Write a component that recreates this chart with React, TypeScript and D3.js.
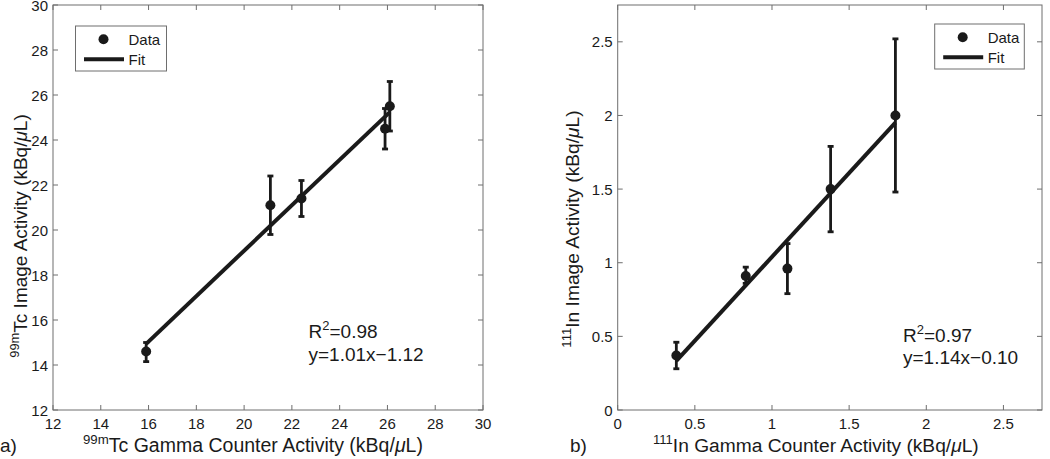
import React from "react";
import * as d3 from "d3";

// ---- Panel a) 99mTc ----
const tcX = [15.9, 21.1, 22.4, 25.9, 26.1];
const tcY = [14.6, 21.1, 21.4, 24.5, 25.5];
const tcLo = [14.15, 19.8, 20.6, 23.6, 24.4];
const tcHi = [15.0, 22.4, 22.2, 25.4, 26.6];
const tcFitX = [15.9, 26.1];
const tcFitY = [14.94, 25.24];
const tcTicks = [12, 14, 16, 18, 20, 22, 24, 26, 28, 30];

// ---- Panel b) 111In ----
const inX = [0.38, 0.83, 1.1, 1.38, 1.8];
const inY = [0.37, 0.91, 0.96, 1.5, 2.0];
const inLo = [0.28, 0.86, 0.79, 1.21, 1.48];
const inHi = [0.46, 0.97, 1.13, 1.79, 2.52];
const inFitX = [0.38, 1.8];
const inFitY = [0.333, 1.952];
const inTicks = [0, 0.5, 1, 1.5, 2, 2.5];
const inTickLabels = ["0", "0.5", "1", "1.5", "2", "2.5"];

const FONT = "'Liberation Sans', Arial, Helvetica, sans-serif";
const INK = "#1a1a1a";
const AXIS = "#6e6e6e";

type PanelProps = {
  x0: number; x1: number; y0: number; y1: number;
  xDomain: [number, number]; yDomain: [number, number];
  ticks: number[]; tickLabels: string[];
  xs: number[]; ys: number[]; lo: number[]; hi: number[];
  fitX: number[]; fitY: number[];
  legend: { x: number; y: number; w: number; h: number };
  annot: { x: number; y: number; r2: string; eq: string };
  iso: string; elem: string;
  xTitle: { x: number; size: number };
  yTitle: { x: number; y: number; size: number };
  panelLabel: { x: number; text: string };
};

function Panel(p: PanelProps) {
  const sx = d3.scaleLinear().domain(p.xDomain).range([p.x0, p.x1]);
  const sy = d3.scaleLinear().domain(p.yDomain).range([p.y1, p.y0]);
  const tl = 5;
  const line = d3.line<number>().x((_, i) => sx(p.fitX[i])).y((d) => sy(d));
  const L = p.legend;
  return (
    <g fontFamily={FONT}>
      {/* box */}
      <rect x={p.x0} y={p.y0} width={p.x1 - p.x0} height={p.y1 - p.y0} fill="white" stroke={AXIS} strokeWidth={1} />
      {p.ticks.map((t, i) => (
        <g key={"t" + i}>
          <line x1={sx(t)} x2={sx(t)} y1={p.y1} y2={p.y1 - tl} stroke={AXIS} />
          <line x1={sx(t)} x2={sx(t)} y1={p.y0} y2={p.y0 + tl} stroke={AXIS} />
          <line x1={p.x0} x2={p.x0 + tl} y1={sy(t)} y2={sy(t)} stroke={AXIS} />
          <line x1={p.x1} x2={p.x1 - tl} y1={sy(t)} y2={sy(t)} stroke={AXIS} />
          <text x={sx(t)} y={p.y1 + 18.5} fontSize={15} textAnchor="middle" fill={INK}>{p.tickLabels[i]}</text>
          <text x={p.x0 - 5} y={sy(t) + 5.5} fontSize={15} textAnchor="end" fill={INK}>{p.tickLabels[i]}</text>
        </g>
      ))}
      {/* error bars */}
      {p.xs.map((x, i) => (
        <g key={"e" + i} stroke={INK} strokeWidth={2.8}>
          <line x1={sx(x)} x2={sx(x)} y1={sy(p.lo[i])} y2={sy(p.hi[i])} />
          <line x1={sx(x) - 3} x2={sx(x) + 3} y1={sy(p.lo[i])} y2={sy(p.lo[i])} />
          <line x1={sx(x) - 3} x2={sx(x) + 3} y1={sy(p.hi[i])} y2={sy(p.hi[i])} />
        </g>
      ))}
      {p.xs.map((x, i) => (
        <circle key={"c" + i} cx={sx(x)} cy={sy(p.ys[i])} r={5} fill={INK} />
      ))}
      <path d={line(p.fitY) || ""} stroke={INK} strokeWidth={4} fill="none" />
      {/* legend */}
      <rect x={L.x} y={L.y} width={L.w} height={L.h} fill="white" stroke={AXIS} strokeWidth={1} />
      <circle cx={L.x + 28} cy={L.y + 13.3} r={5} fill={INK} />
      <text x={L.x + 53} y={L.y + 19} fontSize={15} fill={INK}>Data</text>
      <line x1={L.x + 8.5} x2={L.x + 48.5} y1={L.y + 33.3} y2={L.y + 33.3} stroke={INK} strokeWidth={4} />
      <text x={L.x + 53} y={L.y + 39} fontSize={15} fill={INK}>Fit</text>
      {/* annotation */}
      <text x={p.annot.x} y={p.annot.y} fontSize={19} fill={INK}>
        R<tspan fontSize={13} dy={-8}>2</tspan><tspan dy={8}>{p.annot.r2}</tspan>
      </text>
      <text x={p.annot.x} y={p.annot.y + 22.5} fontSize={19} fill={INK}>{p.annot.eq}</text>
      {/* x title */}
      <text x={p.xTitle.x} y={452} fontSize={p.xTitle.size} fill={INK}>
        <tspan fontSize={p.xTitle.size * 0.68} dy={-8}>{p.iso}</tspan>
        <tspan dy={8}>{p.elem} Gamma Counter Activity (kBq/</tspan>
        <tspan fontStyle="italic">μ</tspan>
        <tspan>L)</tspan>
      </text>
      {/* y title */}
      <text transform={`translate(${p.yTitle.x},${p.yTitle.y}) rotate(-90)`} fontSize={p.yTitle.size} textAnchor="middle" fill={INK}>
        <tspan fontSize={p.yTitle.size * 0.68} dy={-p.yTitle.size * 0.42}>{p.iso}</tspan>
        <tspan dy={p.yTitle.size * 0.42}>{p.elem} Image Activity (kBq/</tspan>
        <tspan fontStyle="italic">μ</tspan>
        <tspan>L)</tspan>
      </text>
      <text x={p.panelLabel.x} y={452} fontSize={19} fill={INK}>{p.panelLabel.text}</text>
    </g>
  );
}

export default function App() {
  return (
    <div style={{ position: "absolute", left: 0, top: 0 }}>
      <svg width={1050} height={459} style={{ display: "block", background: "white" }}>
        <Panel
          x0={53} x1={483} y0={5} y1={410}
          xDomain={[12, 30]} yDomain={[12, 30]}
          ticks={tcTicks} tickLabels={tcTicks.map(String)}
          xs={tcX} ys={tcY} lo={tcLo} hi={tcHi}
          fitX={tcFitX} fitY={tcFitY}
          legend={{ x: 75.5, y: 26, w: 91, h: 45 }}
          annot={{ x: 308.5, y: 338, r2: "=0.98", eq: "y=1.01x\u22121.12" }}
          iso="99m" elem="Tc"
          xTitle={{ x: 83, size: 19.5 }}
          yTitle={{ x: 27, y: 236, size: 19 }}
          panelLabel={{ x: 0, text: "a)" }}
        />
        <Panel
          x0={617.7} x1={1042} y0={5} y1={410}
          xDomain={[0, 2.75]} yDomain={[0, 2.75]}
          ticks={inTicks} tickLabels={inTickLabels}
          xs={inX} ys={inY} lo={inLo} hi={inHi}
          fitX={inFitX} fitY={inFitY}
          legend={{ x: 934.7, y: 24, w: 89.6, h: 45 }}
          annot={{ x: 903, y: 341.5, r2: "=0.97", eq: "y=1.14x\u22120.10" }}
          iso="111" elem="In"
          xTitle={{ x: 653, size: 19.2 }}
          yTitle={{ x: 579, y: 229, size: 19.2 }}
          panelLabel={{ x: 570, text: "b)" }}
        />
      </svg>
    </div>
  );
}
